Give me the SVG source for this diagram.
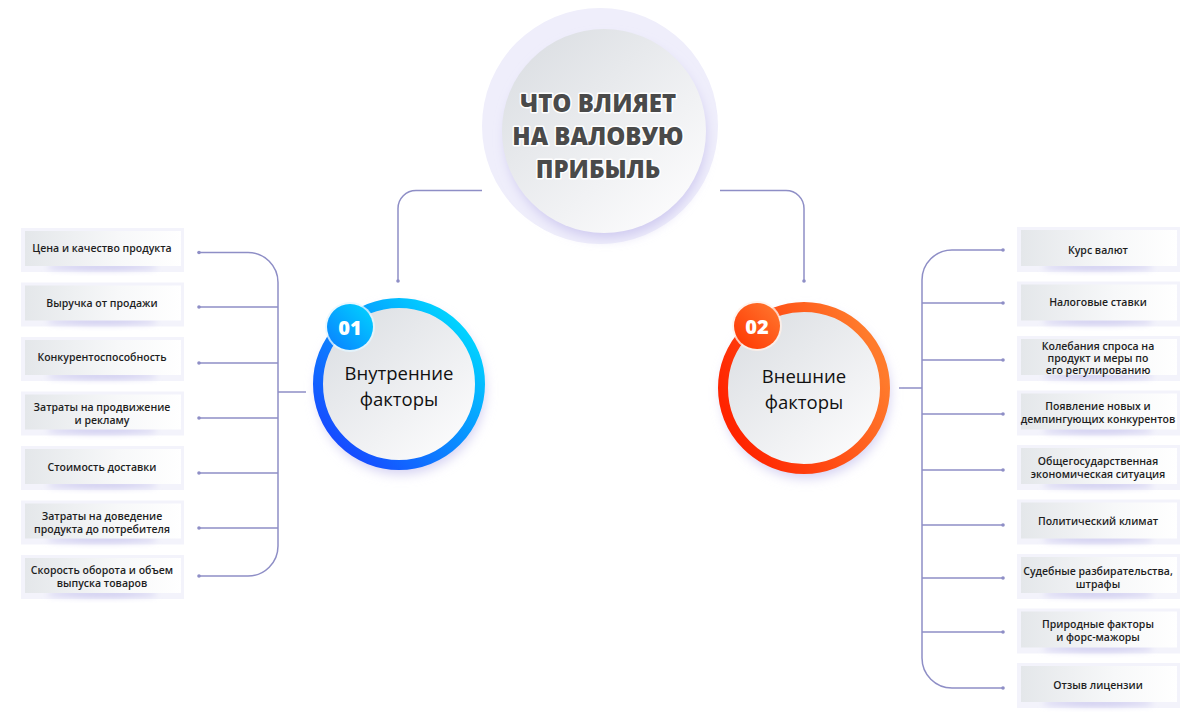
<svg xmlns="http://www.w3.org/2000/svg" width="1200" height="720" viewBox="0 0 1200 720">
<defs>
  <linearGradient id="boxg" x1="0" y1="0" x2="1" y2="0">
    <stop offset="0" stop-color="#e4e7ea"/>
    <stop offset="0.6" stop-color="#f7f8f9"/>
    <stop offset="1" stop-color="#ffffff"/>
  </linearGradient>
  <linearGradient id="discg" x1="0.15" y1="0.1" x2="0.85" y2="0.9">
    <stop offset="0" stop-color="#dde0e4"/>
    <stop offset="1" stop-color="#fbfbfc"/>
  </linearGradient>
  <linearGradient id="blueRing" x1="0.1" y1="0.9" x2="0.9" y2="0.1">
    <stop offset="0" stop-color="#1747ff"/>
    <stop offset="0.5" stop-color="#0a8cff"/>
    <stop offset="1" stop-color="#00d8ff"/>
  </linearGradient>
  <linearGradient id="blueBadge" x1="0" y1="1" x2="1" y2="0">
    <stop offset="0" stop-color="#0a7dff"/>
    <stop offset="1" stop-color="#00d6ff"/>
  </linearGradient>
  <linearGradient id="redRing" x1="0.05" y1="0.7" x2="0.95" y2="0.3">
    <stop offset="0" stop-color="#ff2400"/>
    <stop offset="1" stop-color="#ff7b2c"/>
  </linearGradient>
  <linearGradient id="redBadge" x1="0" y1="1" x2="1" y2="0">
    <stop offset="0" stop-color="#ff3300"/>
    <stop offset="1" stop-color="#ff7a30"/>
  </linearGradient>
  <filter id="shadow" x="-30%" y="-100%" width="160%" height="300%">
    <feGaussianBlur stdDeviation="3"/>
  </filter>
  <filter id="cshadow" x="-30%" y="-30%" width="160%" height="160%">
    <feGaussianBlur stdDeviation="6"/>
  </filter>
  <style>
    .conn{fill:none;stroke:#8e8ec6;stroke-width:1.5}
    .dot{fill:#8e8ec6}
    .bo{fill:#f3f3fb}
    .bi{fill:url(#boxg)}
    .bs{fill:#c9c6ee;filter:url(#shadow)}
    .bt{font-family:"Open Sans","Liberation Sans",sans-serif;font-weight:600;font-size:10.5px;fill:#1e1e1e;text-anchor:middle}
    .ct{font-family:"Open Sans","Liberation Sans",sans-serif;font-weight:400;font-size:18.5px;fill:#111;text-anchor:middle}
    .nt{font-family:"Open Sans","Liberation Sans",sans-serif;font-weight:800;font-size:20px;fill:#fff;text-anchor:middle}
    .tt{font-family:"Open Sans","Liberation Sans",sans-serif;font-weight:800;font-size:24px;fill:#4a4a4a;text-anchor:middle;stroke:#ffffff;stroke-width:3;paint-order:stroke;stroke-linejoin:round}
  </style>
</defs>
<rect width="1200" height="720" fill="#ffffff"/>

<g id="connectors">
  <path class="conn" d="M482,190.5 H416 A18,18 0 0 0 398,208.5 V281"/>
  <circle class="dot" cx="398" cy="281" r="1.8"/>
  <path class="conn" d="M720,190.5 H786 A18,18 0 0 1 804,208.5 V281"/>
  <circle class="dot" cx="804" cy="281" r="1.8"/>

  <path class="conn" d="M199,252.5 H248 A30,30 0 0 1 278,282.5 V546 A30,30 0 0 1 248,576 H199"/>
  <path class="conn" d="M199,307 H278 M199,363 H278 M199,418 H278 M199,473 H278 M199,528 H278 M278,392 H306"/>
  <g class="dot">
    <circle cx="199" cy="252.5" r="1.8"/><circle cx="199" cy="307" r="1.8"/><circle cx="199" cy="363" r="1.8"/>
    <circle cx="199" cy="418" r="1.8"/><circle cx="199" cy="473" r="1.8"/><circle cx="199" cy="528" r="1.8"/>
    <circle cx="199" cy="576" r="1.8"/>
  </g>

  <path class="conn" d="M1003,250 H952 A30,30 0 0 0 922,280 V658 A30,30 0 0 0 952,688 H1003"/>
  <path class="conn" d="M922,303 H1003 M922,360 H1003 M922,414 H1003 M922,470 H1003 M922,525 H1003 M922,578 H1003 M922,632 H1003 M899,388 H922"/>
  <g class="dot">
    <circle cx="1003" cy="250" r="1.8"/><circle cx="1003" cy="303" r="1.8"/><circle cx="1003" cy="360" r="1.8"/>
    <circle cx="1003" cy="414" r="1.8"/><circle cx="1003" cy="470" r="1.8"/><circle cx="1003" cy="525" r="1.8"/>
    <circle cx="1003" cy="578" r="1.8"/><circle cx="1003" cy="632" r="1.8"/><circle cx="1003" cy="688" r="1.8"/>
  </g>
</g>

<g id="center">
  <circle cx="600" cy="126" r="118" fill="#efeefb"/>
  <circle cx="606" cy="138" r="100" fill="#cfcaf0" filter="url(#cshadow)"/>
  <circle cx="604" cy="131" r="102" fill="url(#discg)"/>
  <text class="tt" x="598" y="112">ЧТО ВЛИЯЕТ</text>
  <text class="tt" x="598" y="145">НА ВАЛОВУЮ</text>
  <text class="tt" x="598" y="178">ПРИБЫЛЬ</text>
</g>

<g id="internal">
  <circle cx="401" cy="390" r="84" fill="#d4d0f2" filter="url(#cshadow)"/>
  <circle cx="399" cy="384" r="81" fill="url(#discg)" stroke="url(#blueRing)" stroke-width="10"/>
  <circle cx="350" cy="327" r="25" fill="#e3f6ff" opacity="0.8"/>
  <circle cx="350" cy="327" r="23" fill="url(#blueBadge)"/>
  <text class="nt" x="350" y="335">01</text>
  <text class="ct" x="399" y="380">Внутренние</text>
  <text class="ct" x="399" y="406">факторы</text>
</g>

<g id="external">
  <circle cx="806" cy="394" r="84" fill="#d4d0f2" filter="url(#cshadow)"/>
  <circle cx="804" cy="388" r="81" fill="url(#discg)" stroke="url(#redRing)" stroke-width="10"/>
  <circle cx="757" cy="326" r="25" fill="#fff0e8" opacity="0.8"/>
  <circle cx="757" cy="326" r="23" fill="url(#redBadge)"/>
  <text class="nt" x="757" y="334">02</text>
  <text class="ct" x="804" y="383">Внешние</text>
  <text class="ct" x="804" y="409">факторы</text>
</g>

<!-- Left boxes -->
<g id="l1"><rect class="bo" x="21" y="228" width="163" height="44"/><ellipse class="bs" cx="102" cy="267" rx="55" ry="3"/><rect class="bi" x="25" y="231" width="156" height="35"/><text class="bt" x="102" y="252">Цена и качество продукта</text></g>
<g id="l2"><rect class="bo" x="21" y="282.5" width="163" height="44"/><ellipse class="bs" cx="102" cy="321.5" rx="55" ry="3"/><rect class="bi" x="25" y="285.5" width="156" height="35"/><text class="bt" x="102" y="307">Выручка от продажи</text></g>
<g id="l3"><rect class="bo" x="21" y="337" width="163" height="44"/><ellipse class="bs" cx="102" cy="376" rx="55" ry="3"/><rect class="bi" x="25" y="340" width="156" height="35"/><text class="bt" x="102" y="361">Конкурентоспособность</text></g>
<g id="l4"><rect class="bo" x="21" y="391.5" width="163" height="44"/><ellipse class="bs" cx="102" cy="430.5" rx="55" ry="3"/><rect class="bi" x="25" y="394.5" width="156" height="35"/><text class="bt" x="102" y="411">Затраты на продвижение</text><text class="bt" x="102" y="424">и рекламу</text></g>
<g id="l5"><rect class="bo" x="21" y="446" width="163" height="44"/><ellipse class="bs" cx="102" cy="485" rx="55" ry="3"/><rect class="bi" x="25" y="449" width="156" height="35"/><text class="bt" x="102" y="471">Стоимость доставки</text></g>
<g id="l6"><rect class="bo" x="21" y="500.5" width="163" height="44"/><ellipse class="bs" cx="102" cy="539.5" rx="55" ry="3"/><rect class="bi" x="25" y="503.5" width="156" height="35"/><text class="bt" x="102" y="520">Затраты на доведение</text><text class="bt" x="102" y="533">продукта до потребителя</text></g>
<g id="l7"><rect class="bo" x="21" y="555" width="163" height="44"/><ellipse class="bs" cx="102" cy="594" rx="55" ry="3"/><rect class="bi" x="25" y="558" width="156" height="35"/><text class="bt" x="102" y="574">Скорость оборота и объем</text><text class="bt" x="102" y="587">выпуска товаров</text></g>

<!-- Right boxes -->
<g id="r1"><rect class="bo" x="1017" y="227" width="163" height="45"/><ellipse class="bs" cx="1098" cy="267" rx="55" ry="3"/><rect class="bi" x="1021" y="230" width="156" height="36"/><text class="bt" x="1098" y="254">Курс валют</text></g>
<g id="r2"><rect class="bo" x="1017" y="281.5" width="163" height="45"/><ellipse class="bs" cx="1098" cy="321.5" rx="55" ry="3"/><rect class="bi" x="1021" y="284.5" width="156" height="36"/><text class="bt" x="1098" y="306">Налоговые ставки</text></g>
<g id="r3"><rect class="bo" x="1017" y="336" width="163" height="45"/><ellipse class="bs" cx="1098" cy="376" rx="55" ry="3"/><rect class="bi" x="1021" y="339" width="156" height="36"/><text class="bt" x="1098" y="350">Колебания спроса на</text><text class="bt" x="1098" y="362">продукт и меры по</text><text class="bt" x="1098" y="374">его регулированию</text></g>
<g id="r4"><rect class="bo" x="1017" y="390.5" width="163" height="45"/><ellipse class="bs" cx="1098" cy="430.5" rx="55" ry="3"/><rect class="bi" x="1021" y="393.5" width="156" height="36"/><text class="bt" x="1098" y="410">Появление новых и</text><text class="bt" x="1098" y="423">демпингующих конкурентов</text></g>
<g id="r5"><rect class="bo" x="1017" y="445" width="163" height="45"/><ellipse class="bs" cx="1098" cy="485" rx="55" ry="3"/><rect class="bi" x="1021" y="448" width="156" height="36"/><text class="bt" x="1098" y="465">Общегосударственная</text><text class="bt" x="1098" y="478">экономическая ситуация</text></g>
<g id="r6"><rect class="bo" x="1017" y="499.5" width="163" height="45"/><ellipse class="bs" cx="1098" cy="539.5" rx="55" ry="3"/><rect class="bi" x="1021" y="502.5" width="156" height="36"/><text class="bt" x="1098" y="525">Политический климат</text></g>
<g id="r7"><rect class="bo" x="1017" y="554" width="163" height="45"/><ellipse class="bs" cx="1098" cy="594" rx="55" ry="3"/><rect class="bi" x="1021" y="557" width="156" height="36"/><text class="bt" x="1098" y="575">Судебные разбирательства,</text><text class="bt" x="1098" y="588">штрафы</text></g>
<g id="r8"><rect class="bo" x="1017" y="608.5" width="163" height="45"/><ellipse class="bs" cx="1098" cy="648.5" rx="55" ry="3"/><rect class="bi" x="1021" y="611.5" width="156" height="36"/><text class="bt" x="1098" y="628">Природные факторы</text><text class="bt" x="1098" y="641">и форс-мажоры</text></g>
<g id="r9"><rect class="bo" x="1017" y="663" width="163" height="45"/><ellipse class="bs" cx="1098" cy="703" rx="55" ry="3"/><rect class="bi" x="1021" y="666" width="156" height="36"/><text class="bt" x="1098" y="689">Отзыв лицензии</text></g>
</svg>
